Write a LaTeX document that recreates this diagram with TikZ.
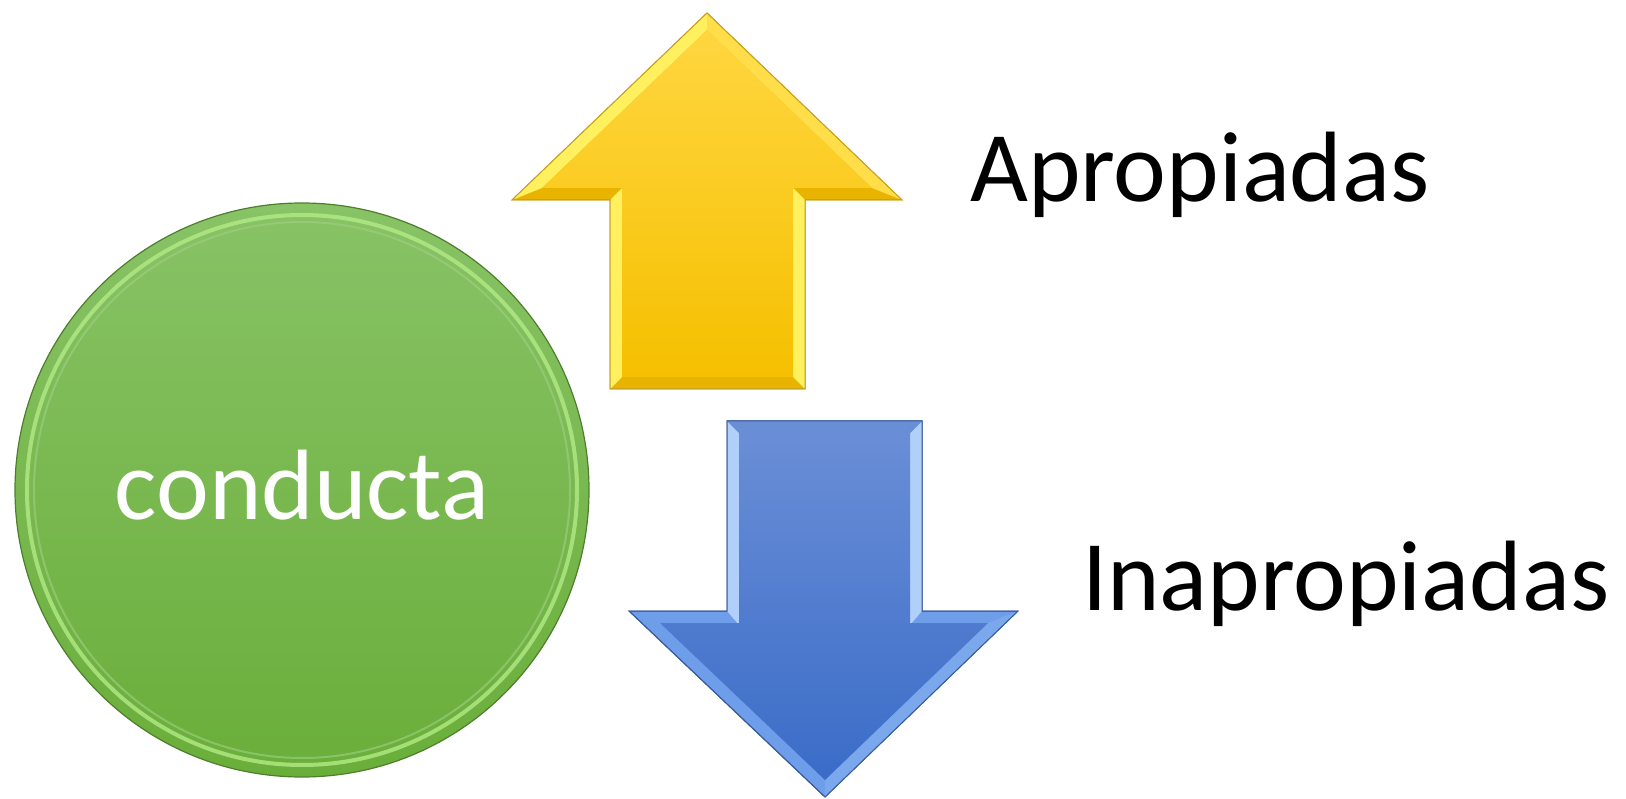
\documentclass[tikz,border=0pt]{standalone}
\usepackage{fontspec}
\setmainfont{Carlito}
\definecolor{ytop}{HTML}{FFD640}
\definecolor{ybot}{HTML}{F5C000}
\definecolor{yedge}{HTML}{C8A020}
\definecolor{ylight}{HTML}{FFF060}
\definecolor{ydark}{HTML}{E8B400}
\definecolor{btop}{HTML}{6A8ED6}
\definecolor{bbot}{HTML}{3A6CC8}
\definecolor{bedge}{HTML}{3A5C9A}
\definecolor{blight}{HTML}{B0D0FA}
\definecolor{bmid}{HTML}{6E9EEA}
\definecolor{gtop}{HTML}{88C366}
\definecolor{gbot}{HTML}{6AAE3A}
\definecolor{gedge}{HTML}{4E7E2C}
\definecolor{glight}{HTML}{B2EA86}
\tikzset{
  bigtext/.style={inner sep=0pt, font=\fontsize{100}{120}\selectfont},
}
\begin{document}
\begin{tikzpicture}[x=1pt,y=-1pt]
\useasboundingbox (0,0) rectangle (1626,799);
% ---------- green circle ----------
\node[circle, minimum size=574pt, inner sep=0pt, draw=gedge, line width=1.2pt,
      top color=gtop, bottom color=gbot] (circ) at (302,490) {};
\draw[glight, line width=4pt, opacity=0.8] (circ.center) circle[radius=275];
\draw[gtop!80!white, line width=2pt, opacity=0.6] (circ.center) circle[radius=268];
\node[bigtext, text=white, anchor=base] (cond) at (302,519) {conducta};
% ---------- yellow up arrow ----------
\path[fill=ydark, draw=yedge, line width=1pt]
  (707,13) -- (902,200) -- (805,200) -- (805,389) -- (610,389) -- (610,200) -- (512,200) -- cycle;
% light bevels
\fill[ylight] (707,13) -- (707,30) -- (542,188) -- (512,200) -- cycle;
\fill[ylight] (610,200) -- (622,188) -- (622,377) -- (610,389) -- cycle;
\fill[ylight] (805,200) -- (793,188) -- (793,377) -- (805,389) -- cycle;
\fill[ytop!70!ylight] (707,13) -- (902,200) -- (872,188) -- (707,30) -- cycle;
\shade[top color=ytop, bottom color=ybot]
  (707,30) -- (872,188) -- (793,188) -- (793,377) -- (622,377) -- (622,188) -- (542,188) -- cycle;
\draw[yedge, line width=1pt]
  (707,13) -- (902,200) -- (805,200) -- (805,389) -- (610,389) -- (610,200) -- (512,200) -- cycle;
% ---------- blue down arrow ----------
\path[fill=bmid, draw=bedge, line width=1pt]
  (727,421) -- (922,421) -- (922,611) -- (1018,611) -- (825,797) -- (629,611) -- (727,611) -- cycle;
\fill[blight] (727,421) -- (739,433) -- (739,625) -- (727,611) -- cycle;
\fill[blight] (922,421) -- (910,433) -- (910,625) -- (922,611) -- cycle;
\fill[btop] (727,421) -- (922,421) -- (910,433) -- (739,433) -- cycle;
\fill[bmid!80!blight] (1018,611) -- (825,797) -- (825,780) -- (988,623) -- cycle;
\shade[top color=btop, bottom color=bbot]
  (739,433) -- (910,433) -- (910,623) -- (988,623) -- (825,780) -- (660,623) -- (739,623) -- cycle;
\draw[bedge, line width=1pt]
  (727,421) -- (922,421) -- (922,611) -- (1018,611) -- (825,797) -- (629,611) -- (727,611) -- cycle;
% ---------- labels ----------
\node[bigtext, anchor=base west] (apro) at (970,202) {Apropiadas};
\node[bigtext, anchor=base west] (inapro) at (1082,610) {Inapropiadas};
\end{tikzpicture}
\end{document}
